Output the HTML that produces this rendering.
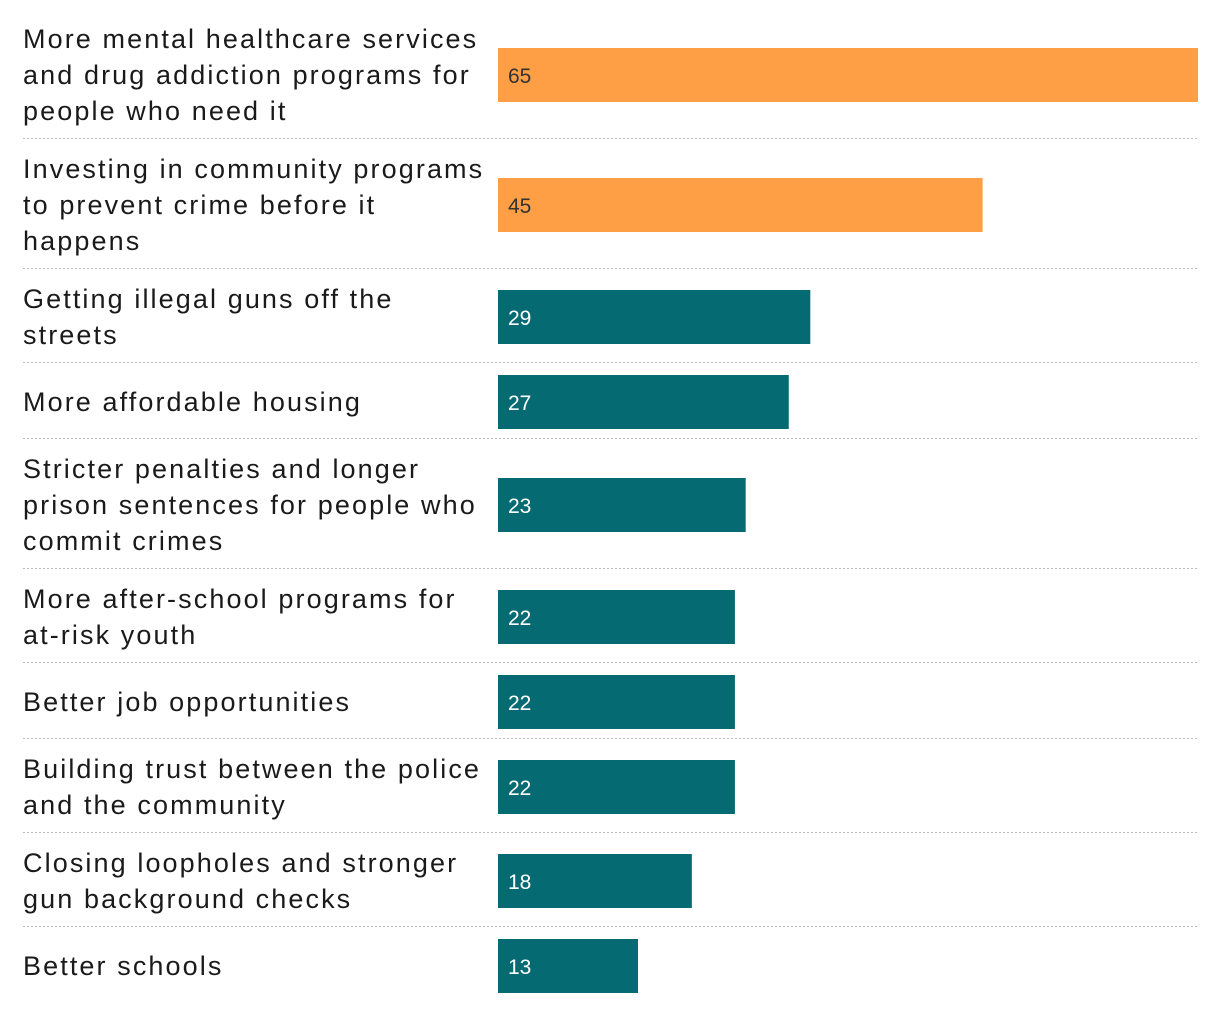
<!DOCTYPE html>
<html><head><meta charset="utf-8"><style>
html,body{margin:0;padding:0;background:#fff;width:1220px;height:1012px;overflow:hidden}
svg{display:block}
</style></head><body>
<svg id="chart" width="1220" height="1012" xmlns="http://www.w3.org/2000/svg"></svg>
<script>
const categories = [
 "More mental healthcare services\nand drug addiction programs for\npeople who need it",
 "Investing in community programs\nto prevent crime before it\nhappens",
 "Getting illegal guns off the\nstreets",
 "More affordable housing",
 "Stricter penalties and longer\nprison sentences for people who\ncommit crimes",
 "More after-school programs for\nat-risk youth",
 "Better job opportunities",
 "Building trust between the police\nand the community",
 "Closing loopholes and stronger\ngun background checks",
 "Better schools"
];
const values = [65,45,29,27,23,22,22,22,18,13];
const highlight = [true,true,false,false,false,false,false,false,false,false];

const NS="http://www.w3.org/2000/svg";
const svg=document.getElementById('chart');
const x0=498, x1=1198, maxV=65;
function xScale(v){return x0+(x1-x0)*v/maxV;}
const lineH=36, barH=54;
let yPos=10;
categories.forEach((cat,i)=>{
  const lines=cat.split("\n");
  const h=Math.max(lines.length*lineH,barH)+22;
  const cy=yPos+h/2;
  const g=document.createElementNS(NS,'g');
  
  
  const t=document.createElementNS(NS,'text');
  
  
  t.setAttribute('x',23);
  t.setAttribute('font-family','Liberation Sans, sans-serif');
  t.setAttribute('font-size','27');
  t.setAttribute('fill','#1a1a1a');
  t.setAttribute('letter-spacing','2.1');
  const startY=cy-(lines.length-1)*lineH/2+9;
  lines.forEach((ln,j)=>{
    const ts=document.createElementNS(NS,'tspan');
    ts.setAttribute('x',23);
    ts.setAttribute('y',startY+j*lineH);
    ts.textContent=ln;
    t.appendChild(ts);
  });
  g.appendChild(t);
  const r=document.createElementNS(NS,'rect');
  
  
  r.setAttribute('x',x0);
  r.setAttribute('y',cy-barH/2);
  r.setAttribute('width',xScale(values[i])-x0);
  r.setAttribute('height',barH);
  r.setAttribute('fill',highlight[i]?'#FF9F45':'#066A73');
  g.appendChild(r);
  const v=document.createElementNS(NS,'text');
  
  
  v.setAttribute('x',x0+10);
  v.setAttribute('y',cy+8);
  v.setAttribute('font-family','Liberation Sans, sans-serif');
  v.setAttribute('font-size','21');
  v.setAttribute('fill',highlight[i]?'#333':'#fff');
  v.textContent=values[i];
  g.appendChild(v);
  yPos+=h;
  if(i<categories.length-1){
    const l=document.createElementNS(NS,'line');
    
    
    l.setAttribute('x1',23);l.setAttribute('x2',1198);
    l.setAttribute('y1',yPos-1.5);l.setAttribute('y2',yPos-1.5);
    l.setAttribute('stroke','#bbb');
    l.setAttribute('stroke-dasharray','2,2');
    g.appendChild(l);
  }
  svg.appendChild(g);
});
</script>
</body></html>
